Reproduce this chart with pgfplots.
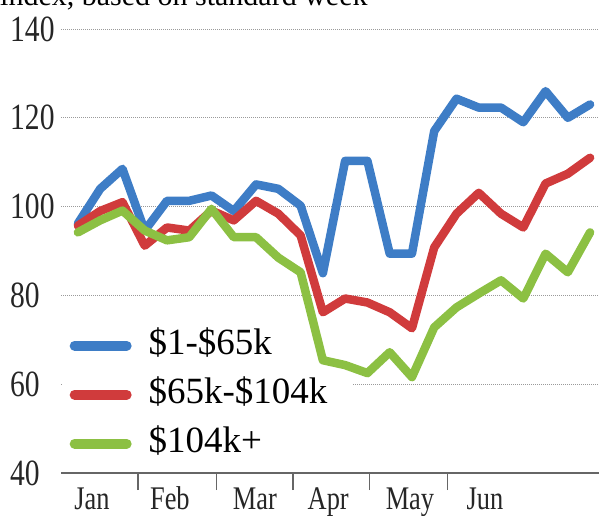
\documentclass[border=0pt]{standalone}
\usepackage{pgfplots}
\pgfplotsset{compat=1.18}
\usepackage{fontspec}
\setmainfont{Liberation Serif}
\newfontfamily\condfont[FakeStretch=0.8]{Liberation Serif}
\definecolor{cblue}{HTML}{3E7DC6}
\definecolor{cred}{HTML}{D03B3C}
\definecolor{cgreen}{HTML}{8CC043}
\definecolor{gridc}{HTML}{9A9A9A}
\pgfplotstableread{
x blue red green
0 96.2 95.7 94.2
1 104.0 99.0 96.9
2 108.5 101.0 99.1
3 94.6 91.2 94.6
4 101.3 95.3 92.4
5 101.3 94.6 93.1
6 102.5 99.1 99.5
7 99.0 96.9 93.1
8 105.0 101.3 93.1
9 104.0 98.4 88.5
10 100.2 93.5 85.2
11 85.0 76.2 65.4
12 110.3 79.3 64.3
13 110.3 78.4 62.5
14 89.4 76.2 67.2
15 89.4 72.6 61.6
16 117.0 90.8 72.8
17 124.3 98.4 77.3
18 122.3 103.1 80.4
19 122.3 98.4 83.4
20 119.0 95.3 79.3
21 126.0 105.2 89.4
22 120.0 107.4 85.2
23 123.0 111.0 94.2
}\datatable
\begin{document}
\begin{tikzpicture}
\node[anchor=base west, font=\fontsize{30}{34}\selectfont, inner sep=0pt] at (-61pt,467pt) {index, based on standard week};
\begin{axis}[
  set layers=standard,
  scale only axis,
  width=538pt, height=444pt,
  xmin=-0.76, xmax=23.4,
  ymin=40, ymax=140,
  axis x line*=bottom,
  axis y line*=left,
  x axis line style={draw=gray!80!black, line width=1.3pt},
  y axis line style={draw=none},
  ytick={40,60,80,100,120,140},
  ymajorgrids,
  grid style={gridc, line width=0.9pt, dash pattern=on 0.9pt off 1.1pt},
  ytick style={draw=none},
  /pgf/number format/assume math mode=true,
  yticklabel style={anchor=west, inner sep=0pt, xshift=-51pt, font=\condfont\fontsize{37}{40}\selectfont, text=black!85},
  xtick={0.63,4.13,7.95,11.24,14.91,18.28},
  xticklabels={Jan,Feb,Mar,Apr,May,Jun},
  major tick length=0pt,
  xticklabel style={anchor=north, inner sep=0pt, text height=22pt, text depth=0pt, yshift=-14pt, font=\condfont\fontsize{33}{36}\selectfont, text=black!85},
  extra x ticks={2.7,6.24,9.66,13.1,16.6},
  extra x tick labels={},
  extra x tick style={major tick length=17pt, tick align=outside, tick style={draw=gray!80!black, line width=1.2pt}},
  clip=false,
  legend cell align=left,
  legend image code/.code={\draw[line width=10pt, line cap=round] (0pt,0pt) -- (52pt,0pt);},
  legend style={at={(0.012,0.33)}, anchor=north west, draw=none, fill=none,
    font=\fontsize{37}{40}\selectfont, row sep=15pt,
    nodes={inner sep=0pt, text height=26pt, text depth=8pt},
    column sep=17pt, inner sep=2pt},
]
\begin{pgfonlayer}{axis ticks}
\fill[white] (axis cs:-0.7,58.8) rectangle (axis cs:12.3,61.2);
\end{pgfonlayer}
\addplot[cblue, line width=8.5pt, line join=round, line cap=round] table[x=x, y=blue] {\datatable};
\addplot[cred, line width=8.5pt, line join=round, line cap=round] table[x=x, y=red] {\datatable};
\addplot[cgreen, line width=8.5pt, line join=round, line cap=round] table[x=x, y=green] {\datatable};
\legend{\$1-\$65k, \$65k-\$104k, \$104k+}
\end{axis}
\pgfresetboundingbox
\useasboundingbox (-61pt,-42pt) rectangle (538pt,473pt);
\end{tikzpicture}
\end{document}
